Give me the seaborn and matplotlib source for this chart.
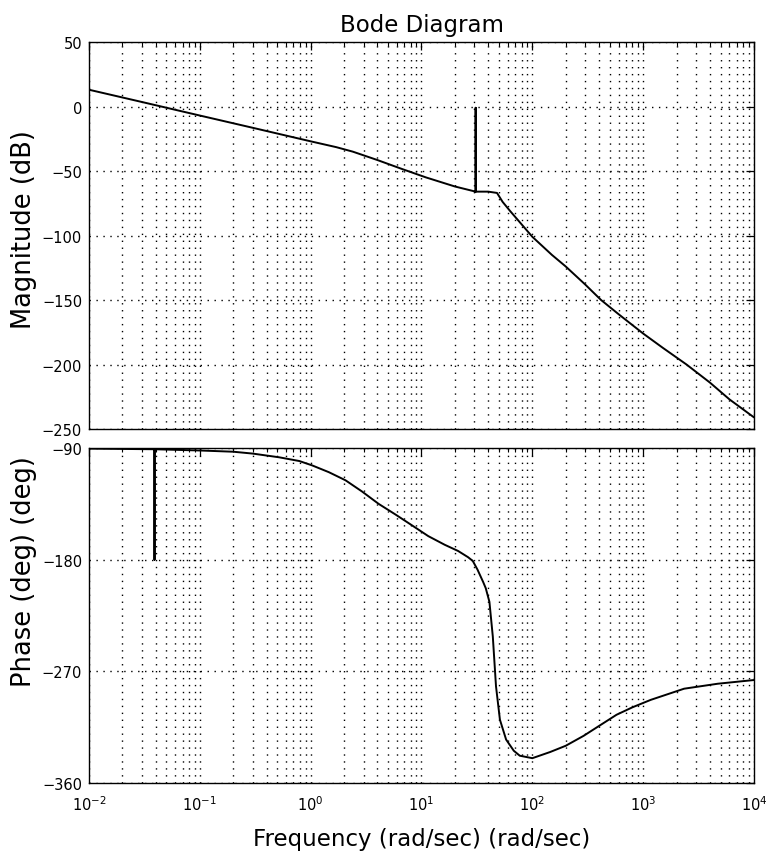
import matplotlib
matplotlib.use("Agg")
import matplotlib.pyplot as plt
import seaborn as sns
import pandas as pd
from matplotlib.ticker import LogLocator, FixedLocator, NullFormatter, LogFormatterSciNotation

# ---------------- data ----------------
mag_freq = [0.01, 0.03, 0.1, 0.3, 1, 1.7, 2.4, 4, 6.7, 11, 20, 30.8, 30.8,
            30.8, 40, 48, 54, 63, 100, 150, 200, 300, 417, 600, 1000, 1500,
            2460, 4000, 6000, 10000]
mag_db = [13, 3.5, -7, -16.5, -27, -31.5, -35, -41.5, -48.5, -55, -62, -66,
          -1, -66, -66, -67, -74, -81, -101, -115, -124, -138, -150, -161,
          -176, -187, -200, -214, -227, -241]

ph_freq = [0.01, 0.039, 0.039, 0.039, 0.1, 0.2, 0.3, 0.52, 0.79, 1.03, 1.46,
           2.06, 2.9, 4.1, 5.8, 8.1, 11.5, 16.2, 21.4, 26.3, 29, 32, 36, 38,
           41, 44, 47, 51, 58, 68, 77, 100, 145, 200, 290, 400, 575, 800,
           1170, 2340, 4700, 10000]
ph_deg = [-90.5, -91, -180, -91, -92, -93, -94.5, -97.5, -100.5, -104, -109.5,
          -116, -125, -135, -143.5, -152, -161, -168, -173, -178, -181, -188,
          -198, -203, -214, -242, -282, -309, -325, -334, -338, -340, -335,
          -330, -322, -314, -305, -299, -293, -284, -280, -277]

x_ticks = [1e-2, 1e-1, 1e0, 1e1, 1e2, 1e3, 1e4]
mag_ticks = [-250, -200, -150, -100, -50, 0, 50]
ph_ticks = [-360, -270, -180, -90]

title = "Bode Diagram"
mag_label = "Magnitude (dB)"
ph_label = "Phase (deg) (deg)"
x_label = "Frequency (rad/sec) (rad/sec)"

# ---------------- style ----------------
sns.set_theme(style="white")
plt.rcParams["font.family"] = ["DejaVu Sans"]
plt.rcParams["text.color"] = "black"
plt.rcParams["axes.labelcolor"] = "black"
plt.rcParams["xtick.color"] = "black"
plt.rcParams["ytick.color"] = "black"
plt.rcParams["axes.edgecolor"] = "black"
plt.rcParams["axes.linewidth"] = 1.0

W, H = 775, 862
fig = plt.figure(figsize=(W / 100, H / 100), dpi=100)
left, right = 89, 754
ax1 = fig.add_axes([left / W, 1 - 430 / H, (right - left) / W, (430 - 43) / H])
ax2 = fig.add_axes([left / W, 1 - 784 / H, (right - left) / W, (784 - 449) / H])

df_mag = pd.DataFrame({"f": mag_freq, "v": mag_db})
df_ph = pd.DataFrame({"f": ph_freq, "v": ph_deg})

for ax, df in ((ax1, df_mag), (ax2, df_ph)):
    ax.set_xscale("log")
    sns.lineplot(data=df, x="f", y="v", ax=ax, sort=False, estimator=None,
                 color="black", linewidth=1.4)
    ax.set_xlim(1e-2, 1e4)
    ax.xaxis.set_major_locator(FixedLocator(x_ticks))
    ax.xaxis.set_minor_locator(LogLocator(base=10, subs=range(2, 10), numticks=100))
    ax.xaxis.set_minor_formatter(NullFormatter())
    ax.grid(True, which="major", axis="both", color="black",
            linestyle=(0, (1, 4)), linewidth=1.0)
    ax.grid(True, which="minor", axis="x", color="black",
            linestyle=(0, (1, 4)), linewidth=1.0)
    ax.tick_params(which="both", direction="in", top=True, right=True,
                   colors="black", labelsize=10.5)
    ax.tick_params(which="major", length=6, width=0.9)
    ax.tick_params(which="minor", length=3, width=0.8)
    ax.tick_params(axis="y", pad=5)
    ax.tick_params(axis="x", pad=8)
    for s in ax.spines.values():
        s.set_color("black")
        s.set_linewidth(1.0)
    ax.set_xlabel("")

ax1.set_ylim(-250, 50)
ax1.yaxis.set_major_locator(FixedLocator(mag_ticks))
ax1.xaxis.set_major_formatter(NullFormatter())
ax1.set_title(title, fontsize=16.5, pad=8, color="black")
ax1.set_ylabel(mag_label, fontsize=18.5, va="center")
ax1.yaxis.set_label_coords(-0.098, 0.519)

ax2.set_ylim(-360, -90)
ax2.yaxis.set_major_locator(FixedLocator(ph_ticks))
ax2.xaxis.set_major_formatter(LogFormatterSciNotation())
ax2.set_ylabel(ph_label, fontsize=18.5, va="center")
ax2.yaxis.set_label_coords(-0.098, 0.633)
ax2.set_xlabel(x_label, fontsize=16.5, va="center")
ax2.xaxis.set_label_coords(0.5, -0.167)

fig.savefig("out.png", dpi=100, facecolor="white")
